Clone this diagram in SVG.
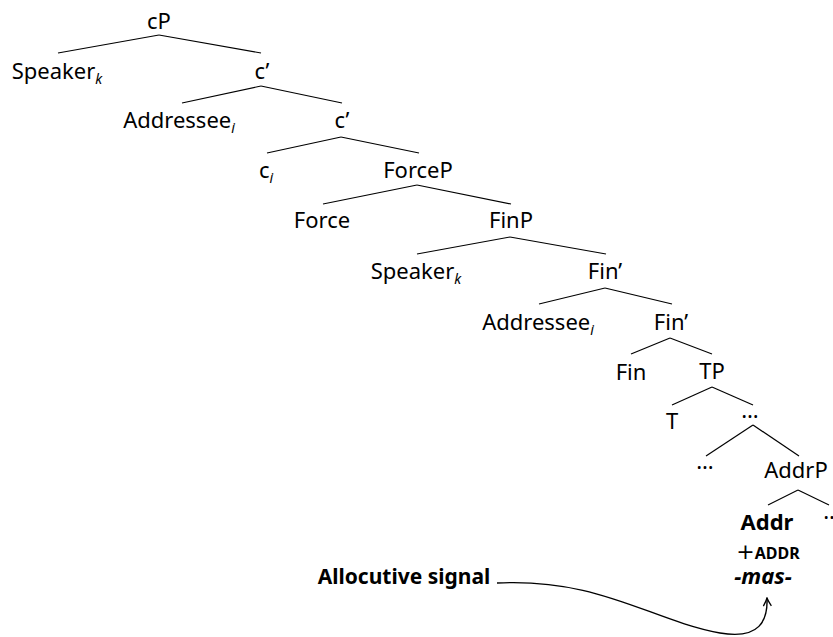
<svg xmlns="http://www.w3.org/2000/svg" width="833" height="637" viewBox="0 0 833 637">
<defs>
<style>
text{font-family:"Noto Sans","DejaVu Sans",sans-serif;font-size:22px;fill:#000;text-anchor:middle}
.sub{font-size:14px;font-style:italic}
.b{font-weight:bold}
.sc{font-size:16px;font-weight:bold}
.plus{font-size:22px;font-family:"DejaVu Sans",sans-serif;font-weight:normal}
.bi{font-weight:bold;font-style:italic}
.sig{font-size:21px;font-weight:bold}
#edges line{stroke:#000;stroke-width:1.2}
.conn{fill:none;stroke:#000;stroke-width:1.4}
</style>
<marker id="arr" viewBox="0 0 10 10" refX="9" refY="5" markerWidth="10" markerHeight="10" markerUnits="userSpaceOnUse" orient="auto">
<path d="M1,1 Q6,4 9,5 Q6,6 1,9" fill="none" stroke="#000" stroke-width="1.3"/>
</marker>
</defs>
<rect width="833" height="637" fill="#fff"/>
<g id="edges">
<line x1="159" y1="35" x2="58" y2="53"/><line x1="159" y1="35" x2="261" y2="53"/>
<line x1="261" y1="86" x2="182" y2="103"/><line x1="261" y1="86" x2="342" y2="103"/>
<line x1="341" y1="137" x2="267" y2="153"/><line x1="341" y1="137" x2="419" y2="153"/>
<line x1="417" y1="185" x2="323" y2="204"/><line x1="417" y1="185" x2="511" y2="204"/>
<line x1="510" y1="237" x2="417" y2="254"/><line x1="510" y1="237" x2="606" y2="254"/>
<line x1="605" y1="288" x2="539" y2="304"/><line x1="605" y1="288" x2="672" y2="304"/>
<line x1="670" y1="338" x2="631" y2="354"/><line x1="670" y1="338" x2="712" y2="354"/>
<line x1="712" y1="387" x2="672" y2="405"/><line x1="712" y1="387" x2="753" y2="405"/>
<line x1="753" y1="425" x2="706" y2="456"/><line x1="753" y1="425" x2="799" y2="456"/>
<line x1="798" y1="490" x2="768" y2="505"/><line x1="798" y1="490" x2="829" y2="505"/>
<path class="conn" d="M497,583 C600,578 650,620 720,633 C760,640 768,620 767,598" marker-end="url(#arr)"/>
</g>
<g id="n-cP"><text x="159" y="29">cP</text></g>
<g id="n-speaker1"><text x="57" y="79">Speaker<tspan class="sub" dy="5">k</tspan></text></g>
<g id="n-cbar1"><text x="262" y="79">c’</text></g>
<g id="n-addressee1"><text x="179" y="128">Addressee<tspan class="sub" dy="5">i</tspan></text></g>
<g id="n-cbar2"><text x="342" y="128">c’</text></g>
<g id="n-ci"><text x="266" y="178">c<tspan class="sub" dy="5">i</tspan></text></g>
<g id="n-ForceP"><text x="418" y="178">ForceP</text></g>
<g id="n-Force"><text x="322" y="228">Force</text></g>
<g id="n-FinP"><text x="511" y="228">FinP</text></g>
<g id="n-speaker2"><text x="416" y="279">Speaker<tspan class="sub" dy="5">k</tspan></text></g>
<g id="n-finbar1"><text x="605" y="279">Fin’</text></g>
<g id="n-addressee2"><text x="538" y="330">Addressee<tspan class="sub" dy="5">i</tspan></text></g>
<g id="n-finbar2"><text x="671" y="330">Fin’</text></g>
<g id="n-Fin"><text x="631" y="380">Fin</text></g>
<g id="n-TP"><text x="712" y="379">TP</text></g>
<g id="n-T"><text x="672" y="429">T</text></g>
<g id="n-dots1"><text x="750" y="418">…</text></g>
<g id="n-dots2"><text x="705" y="469">…</text></g>
<g id="n-AddrP"><text x="796" y="478">AddrP</text></g>
<g id="n-dots3"><text x="832" y="519">…</text></g>
<g id="n-Addr">
<text class="b" x="767" y="530">Addr</text>
<text x="768" y="559"><tspan class="plus">+</tspan><tspan class="sc">ADDR</tspan></text>
<text class="bi" x="763" y="584">-mas-</text>
</g>
<g id="n-signal"><text class="sig" x="404" y="584">Allocutive signal</text></g>
</svg>
